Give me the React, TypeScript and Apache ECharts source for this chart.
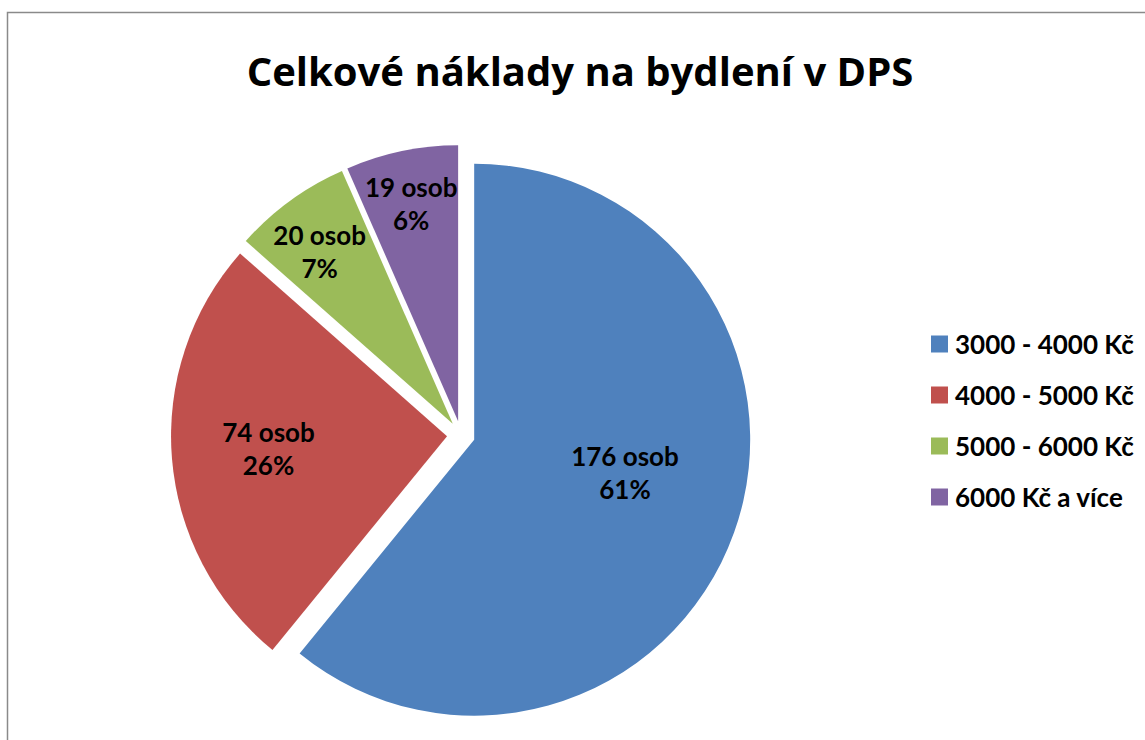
import React, { useEffect, useRef } from "react";
import * as echarts from "echarts";

const TITLE = "Celkové náklady na bydlení v DPS";
const CATEGORIES = ["3000 - 4000 Kč", "4000 - 5000 Kč", "5000 - 6000 Kč", "6000 Kč a více"];
const PERSONS = [176, 74, 20, 19];
const PERCENT_LABELS = ["61%", "26%", "7%", "6%"];

const COLORS = ["#4F81BD", "#C0504D", "#9BBB59", "#8064A2"];
const FONT = "Lato, 'Open Sans', sans-serif";
const TITLE_FONT = "'Open Sans', Lato, sans-serif";

const CENTER: [number, number] = [461, 435];
const RADIUS = 276;
// label shift (px) from ECharts' default "inside" position, per slice
const LABEL_SHIFT: [number, number][] = [
  [18, -15],
  [-38, 1],
  [-50, -58],
  [-18, -80],
];

export default function App() {
  const ref = useRef<HTMLDivElement>(null);

  useEffect(() => {
    if (!ref.current) return;
    const chart = echarts.init(ref.current, undefined, { renderer: "svg" });
    const data = PERSONS.map((v, i) => ({
      name: CATEGORIES[i],
      value: v,
      selected: true,
      itemStyle: { color: COLORS[i] },
    }));

    chart.setOption({
      animation: false,
      backgroundColor: "#ffffff",
      title: {
        text: TITLE,
        left: 580,
        textAlign: "center",
        top: 50,
        padding: 0,
        textStyle: { fontFamily: TITLE_FONT, fontWeight: "bold", fontSize: 40, color: "#000" },
      },
      legend: {
        orient: "vertical",
        left: 931,
        top: 331,
        padding: 0,
        itemWidth: 17,
        itemHeight: 17,
        itemGap: 25,
        icon: "rect",
        selectedMode: false,
        textStyle: {
          fontFamily: FONT,
          fontWeight: "bold",
          fontSize: 26,
          lineHeight: 26,
          color: "#000",
          padding: [0, 0, 0, 2],
        },
        data: CATEGORIES,
      },
      graphic: [
        {
          type: "rect",
          shape: { x: 7.5, y: 12.5, width: 1300, height: 900 },
          style: { fill: "none", stroke: "#8a8a8a", lineWidth: 1.5 },
          silent: true,
        },
      ],
      series: [
        {
          type: "pie",
          center: CENTER,
          radius: RADIUS,
          startAngle: 90,
          clockwise: true,
          selectedMode: "multiple",
          selectedOffset: 14,
          emphasis: { disabled: true },
          itemStyle: { borderWidth: 0 },
          label: {
            show: true,
            position: "inside",
            fontFamily: FONT,
            fontWeight: "bold",
            fontSize: 26,
            lineHeight: 33,
            color: "#000",
            formatter: (p: any) => `${p.value} osob\n${PERCENT_LABELS[p.dataIndex]}`,
          },
          labelLayout: (p: any) => ({ dx: LABEL_SHIFT[p.dataIndex][0], dy: LABEL_SHIFT[p.dataIndex][1] }),
          labelLine: { show: false },
          data,
        },
      ],
    });
    return () => chart.dispose();
  }, []);

  return (
    <div
      ref={ref}
      style={{ position: "fixed", left: 0, top: 0, width: 1145, height: 740 }}
    />
  );
}
